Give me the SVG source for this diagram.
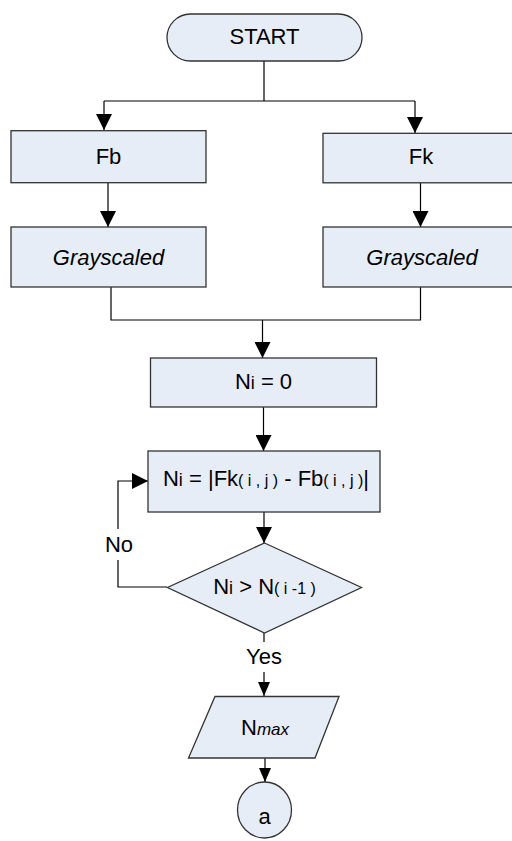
<svg xmlns="http://www.w3.org/2000/svg" width="512" height="841" viewBox="0 0 512 841">
<style>
.box{fill:#E7EDF7;stroke:#333;stroke-width:1.3}
.ln{fill:none;stroke:#000;stroke-width:1.2}
.t{font-family:"Liberation Sans",Arial,sans-serif;font-size:22px;fill:#000;text-anchor:middle}
.it{font-style:italic}
.s{font-size:16px}
.si{font-size:18px}
</style>
<defs>
<marker id="ah" markerUnits="userSpaceOnUse" markerWidth="16" markerHeight="16" viewBox="0 0 16 16" refX="16" refY="8" orient="auto">
<path d="M0,0 L16,8 L0,16 z" fill="#000"/>
</marker>
<marker id="ahs" markerUnits="userSpaceOnUse" markerWidth="14" markerHeight="12" viewBox="0 0 14 12" refX="14" refY="6" orient="auto">
<path d="M0,0 L14,6 L0,12 z" fill="#000"/>
</marker>
</defs>
<rect width="512" height="841" fill="#fff"/>
<g id="connectors">
<path class="ln" d="M264,61 V101"/>
<path class="ln" d="M104,101 H415"/>
<path class="ln" d="M104,101 V130" marker-end="url(#ah)"/>
<path class="ln" d="M415,101 V133" marker-end="url(#ah)"/>
<path class="ln" d="M108,183 V227" marker-end="url(#ah)"/>
<path class="ln" d="M420.5,183 V227" marker-end="url(#ah)"/>
<path class="ln" d="M111,287 V320 H420.5 V287"/>
<path class="ln" d="M262.5,320 V358" marker-end="url(#ah)"/>
<path class="ln" d="M263.5,407 V451" marker-end="url(#ah)"/>
<path class="ln" d="M264,512 V543" marker-end="url(#ah)"/>
<path class="ln" d="M167,587 H118 V560"/>
<path class="ln" d="M118,529 V481 H148" marker-end="url(#ah)"/>
<path class="ln" d="M264,633 V642"/>
<path class="ln" d="M264,672 V696" marker-end="url(#ahs)"/>
<path class="ln" d="M265,758 V782" marker-end="url(#ahs)"/>
<text class="t" x="119" y="552">No</text>
<text class="t" x="264" y="664">Yes</text>
</g>
<g id="start">
<rect class="box" x="167" y="14" width="195" height="47" rx="23.5"/>
<text class="t" x="264.5" y="44">START</text>
</g>
<g id="fb">
<rect class="box" x="11" y="130.7" width="195" height="52"/>
<text class="t" x="108.5" y="163.5">Fb</text>
</g>
<g id="fk">
<rect class="box" x="323" y="133.3" width="195" height="49.5"/>
<text class="t" x="421" y="163.5">Fk</text>
</g>
<g id="gray-fb">
<rect class="box" x="11" y="227" width="195" height="60"/>
<text class="t it" x="108.5" y="265">Grayscaled</text>
</g>
<g id="gray-fk">
<rect class="box" x="323" y="227" width="195" height="60"/>
<text class="t it" x="422" y="265">Grayscaled</text>
</g>
<g id="ni0">
<rect class="box" x="150.5" y="358" width="226" height="49"/>
<text class="t" x="263.5" y="388.5">N<tspan class="si">i</tspan> = 0</text>
</g>
<g id="nidiff">
<rect class="box" x="148" y="451" width="232" height="61"/>
<text class="t" x="266" y="486">N<tspan class="si">i</tspan> = |Fk<tspan class="s">( i , j )</tspan> - Fb<tspan class="s">( i , j )</tspan>|</text>
</g>
<g id="decision">
<path class="box" d="M264.5,543 L361.5,587.5 L264.5,633 L167.5,587.5 Z"/>
<text class="t" x="264.5" y="594">N<tspan class="si">i</tspan> &gt; N<tspan class="s">( i -1 )</tspan></text>
</g>
<g id="nmax">
<path class="box" d="M215,696.5 L339,696.5 L315,758 L188.5,758 Z"/>
<text class="t" x="265" y="734.5">N<tspan class="it" style="font-size:17px">max</tspan></text>
</g>
<g id="connector-a">
<ellipse class="box" cx="264.5" cy="810" rx="27" ry="28"/>
<text class="t" x="264.5" y="824">a</text>
</g>
</svg>
